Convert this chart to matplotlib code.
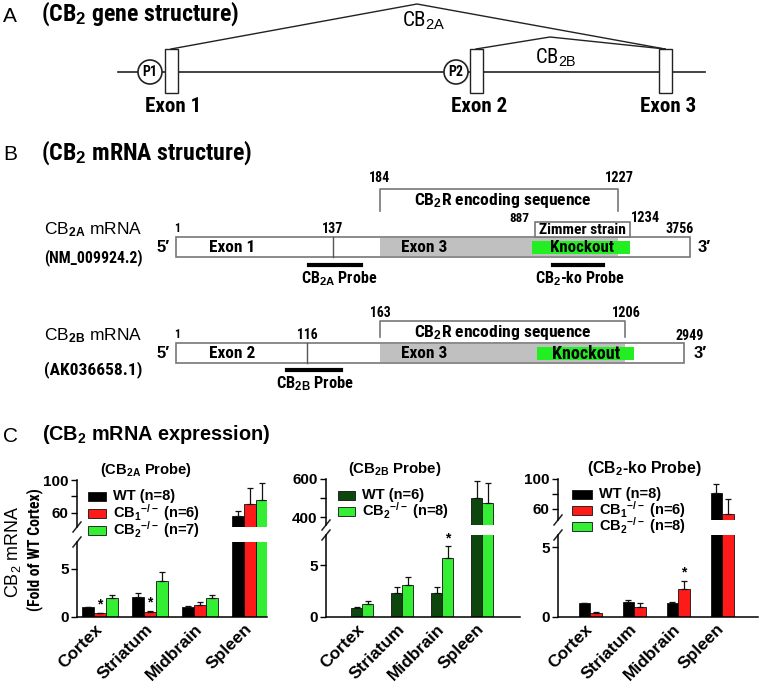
import matplotlib
matplotlib.use('Agg')
import matplotlib.pyplot as plt
from matplotlib.patches import Rectangle, Circle
from matplotlib.font_manager import FontProperties, fontManager
import numpy as np

plt.rcParams['font.family'] = ['Liberation Sans', 'DejaVu Sans']
plt.rcParams['mathtext.fontset'] = 'custom'
plt.rcParams['mathtext.rm'] = 'Liberation Sans:bold'
plt.rcParams['mathtext.it'] = 'Liberation Sans:bold'
plt.rcParams['mathtext.bf'] = 'Liberation Sans:bold'
plt.rcParams['mathtext.sf'] = 'Liberation Sans'


def find_narrow(bold):
    best = None
    for f in fontManager.ttflist:
        key = (f.name + ' ' + f.fname).lower()
        if not ('narrow' in key or 'condensed' in key) or f.style != 'normal':
            continue
        if 'mono' in key or 'serif' in key or 'cjk' in key:
            continue
        w = f.weight if isinstance(f.weight, int) else (700 if f.weight == 'bold' else 400)
        if bold and w != 700:
            continue
        if not bold and w != 400:
            continue
        if 'liberation' in key:
            score = 0
        elif 'roboto' in key and 'semi' not in key:
            score = 1
        elif 'extracondensed' in key.replace(' ', ''):
            score = 3
        elif 'semicondensed' in key.replace(' ', ''):
            score = 4
        elif 'dejavu' in key:
            score = 6
        else:
            score = 2
        if best is None or score < best[0]:
            best = (score, f.fname)
    return best[1] if best else None


NB_FILE = find_narrow(True)
NR_FILE = find_narrow(False)


def narrow(size, bold=True):
    fn = NB_FILE if bold else NR_FILE
    if fn:
        return FontProperties(fname=fn, size=size)
    return FontProperties(family='Liberation Sans', weight='bold' if bold else 'normal', size=size)


def sans(size, bold=True):
    return FontProperties(family='Liberation Sans', weight='bold' if bold else 'normal', size=size)


# ---------------- data ----------------
regions = ['Cortex', 'Striatum', 'Midbrain', 'Spleen']

# CB2A probe
a_wt = [1.0, 2.1, 1.0, 56]
a_wt_err = [0.05, 0.4, 0.1, 7]
a_cb1 = [0.4, 0.55, 1.3, 71]
a_cb1_err = [0.05, 0.1, 0.3, 19]
a_cb2 = [2.0, 3.7, 2.0, 76]
a_cb2_err = [0.3, 1.0, 0.3, 20]

# CB2B probe
b_wt = [0.9, 2.3, 2.3, 500]
b_wt_err = [0.1, 0.6, 0.6, 90]
b_cb2 = [1.3, 3.1, 5.7, 474]
b_cb2_err = [0.2, 0.8, 1.1, 105]

# CB2-ko probe
c_wt = [1.0, 1.05, 1.0, 81]
c_wt_err = [0.03, 0.15, 0.08, 12]
c_cb1 = [0.3, 0.7, 2.0, 53]
c_cb1_err = [0.05, 0.3, 0.6, 20]

W, H = 766, 686
fig = plt.figure(figsize=(W / 100, H / 100), dpi=100)
ov = fig.add_axes([0, 0, 1, 1])
ov.set_xlim(0, W)
ov.set_ylim(H, 0)
ov.axis('off')
REND = fig.canvas.get_renderer()

LC = '#222222'
GC = '#777777'


def T(x, y, s, fp, ha='center', va='center', width=None, maxsize=None, **kw):
    """Place a text; if width is given, scale its size so it spans that many pixels."""
    t = ov.text(x, y, s, fontproperties=fp, ha=ha, va=va, **kw)
    if width:
        bb = t.get_window_extent(REND)
        cur = bb.height if kw.get('rotation') == 90 else bb.width
        new = fp.get_size_in_points() * width / max(cur, 1)
        if maxsize:
            new = min(new, maxsize)
        fp2 = fp.copy()
        fp2.set_size(new)
        t.set_fontproperties(fp2)
    return t


# ---------------- Panel A ----------------
T(3, 16, 'A', sans(15, False), ha='left')
T(41, 14, r'(CB$_2$ gene structure)', narrow(13), ha='left', width=198)
ov.plot([118, 705], [72, 72], color=LC, lw=1.2)
for cx, lab in [(150, 'P1'), (456, 'P2')]:
    ov.add_patch(Circle((cx, 72), 12, fc='white', ec=LC, lw=1.2, zorder=3))
    T(cx, 72, lab, narrow(10), zorder=4, width=15)
for x0 in [165, 470, 659]:
    ov.add_patch(Rectangle((x0, 49), 13, 44, fc='white', ec=LC, lw=1, zorder=3))
ov.plot([171, 417, 665], [49, 4, 49], color=LC, lw=1)
ov.plot([476, 550, 665], [49, 37, 49], color=LC, lw=1)
T(424, 21, r'CB$_{\mathsf{2A}}$', narrow(13, False), width=44)
T(556, 58, r'CB$_{\mathsf{2B}}$', narrow(13, False), width=42)
T(173, 107, 'Exon 1', narrow(12), width=56)
T(479, 107, 'Exon 2', narrow(12), width=56)
T(668, 107, 'Exon 3', narrow(12), width=56)

# ---------------- Panel B ----------------
T(3, 154, 'B', sans(15, False), ha='left')
T(41, 153, r'(CB$_2$ mRNA structure)', narrow(13), ha='left', width=212)


def mrna(bar_y, num_y, br_top, br_bot, seq_y, bar_x1, div_x, gray_x1, ko_x0, ko_x1, br_x1,
         n_div, n_br0, n_br1, n_end, end_x, end_y, three_x, exon_lab, name, acc, acc_y,
         probe_x0, probe_x1, probe_y, probe_lab, probe_cx, probe_w, ko_w):
    ov.plot([380, 380, br_x1, br_x1], [br_bot, br_top, br_top, br_bot], color=GC, lw=1.2)
    T(503, seq_y, r'CB$_2$R encoding sequence', narrow(12), width=177)
    T(380, num_y, n_br0, narrow(11), width=21)
    T(br_x1 + 1, num_y, n_br1, narrow(11), width=29)
    ov.add_patch(Rectangle((176, bar_y), bar_x1 - 176, 20, fc='white', ec=GC, lw=1.2))
    ov.add_patch(Rectangle((380, bar_y + 1), gray_x1 - 380, 18, fc='#c0c0c0', ec='none'))
    ov.add_patch(Rectangle((ko_x0, bar_y + 4), ko_x1 - ko_x0, 13, fc='#22ee22', ec='none'))
    ov.plot([div_x, div_x], [bar_y, bar_y + 20], color='#555555', lw=1)
    cy = bar_y + 11
    T(232, cy, exon_lab, narrow(12), width=46)
    T(424, cy, 'Exon 3', narrow(12), width=46)
    T((ko_x0 + ko_x1) / 2 + 1, cy, 'Knockout', narrow(12), width=ko_w)
    T(177, bar_y - 8, '1', narrow(11), width=6)
    T(div_x, bar_y - 8, n_div, narrow(11), width=21)
    T(end_x, end_y, n_end, narrow(11), width=28)
    T(163, cy - 1, '5′', sans(12))
    T(three_x, cy - 1, '3′', sans(12))
    T(93, bar_y - 7, name, sans(13, False), width=98)
    T(93, acc_y, acc, narrow(11), width=98)
    ov.plot([probe_x0, probe_x1], [probe_y, probe_y], color='black', lw=3)
    T(probe_cx, probe_y + 14, probe_lab, narrow(12), width=probe_w)


mrna(237, 178, 189, 211, 200, 690, 333, 618, 532, 630, 618, '137', '184', '1227', '3756', 680, 229,
     704, 'Exon 1', r'CB$_{2A}$ mRNA', '(NM_009924.2)', 258, 309, 361, 265, r'CB$_{2A}$ Probe',
     339, 76, 64)
# Zimmer strain box + numbers
ov.add_patch(Rectangle((535, 222), 95, 15, fc='white', ec=GC, lw=1.2))
T(582, 230, 'Zimmer strain', narrow(11), width=86)
T(529, 219, '887', narrow(11), ha='right', width=20)
T(631, 218, '1234', narrow(11), ha='left', width=29)
ov.plot([553, 603], [265, 265], color='black', lw=3)
T(580, 279, r'CB$_2$-ko Probe', narrow(12), width=90)

mrna(343, 313, 321, 337, 333, 684, 307, 625, 537, 634, 625, '116', '163', '1206', '2949', 690, 336,
     700, 'Exon 2', r'CB$_{2B}$ mRNA', '(AK036658.1)', 370, 287, 341, 370, r'CB$_{2B}$ Probe',
     315, 78, 68)

# ---------------- Panel C ----------------
T(3, 436, 'C', sans(15, False), ha='left')
T(42, 435, r'(CB$_2$ mRNA expression)', sans(14), ha='left', width=229)
T(13, 552, r'CB$_{\mathsf{2}}$ mRNA', sans(13, False), rotation=90, width=92)
T(35, 550, '(Fold of WT Cortex)', narrow(9), rotation=90, width=123)


def px_axes(x0, y0, x1, y1):
    return fig.add_axes([x0 / W, 1 - y1 / H, (x1 - x0) / W, (y1 - y0) / H])


BLACK = '#000000'
RED = '#ff1a1a'
GREEN = '#33ee33'
DKGREEN = '#0d470d'


def chart(x0, x1, centers_px, bar_px, up_top, up_bot, up_lim, up_ticks, up_lbls,
          low_top, low_lim, series, stars, title, title_xy, title_w, legend_items, legend_xy,
          leg_w, leg_dy):
    spacing = centers_px[1] - centers_px[0]
    xl = ((x0 - centers_px[0]) / spacing, (x1 - centers_px[0]) / spacing)
    w = bar_px / spacing
    ax_u = px_axes(x0, up_top, x1, up_bot)
    ax_l = px_axes(x0, low_top, x1, 617)
    n = len(series)
    xs = np.arange(len(regions))
    for ax in (ax_u, ax_l):
        for i, (vals, errs, col, lab) in enumerate(series):
            pos = xs + (i - (n - 1) / 2) * w
            ax.bar(pos, vals, width=w, color=col, edgecolor='#111111', lw=0.6, label=lab)
            ax.errorbar(pos, vals, yerr=[np.zeros(len(vals)), errs], fmt='none',
                        ecolor='#111111', elinewidth=0.9, capsize=2.2, capthick=0.9)
        ax.set_xlim(*xl)
        ax.patch.set_alpha(0)
        for s in ('top', 'right'):
            ax.spines[s].set_visible(False)
        ax.spines['left'].set_linewidth(1.1)
        ax.spines['bottom'].set_linewidth(1.1)
        ax.tick_params(axis='y', length=4, width=1, pad=2)
    ax_u.set_ylim(*up_lim)
    ax_u.spines['bottom'].set_visible(False)
    ax_u.set_xticks([])
    ax_u.set_yticks(up_ticks)
    ax_u.set_yticklabels(up_lbls, fontproperties=sans(11))
    ax_l.set_ylim(*low_lim)
    ax_l.set_yticks([0, 5])
    ax_l.set_yticklabels(['0', '5'], fontproperties=sans(11))
    ax_l.set_xticks(xs)
    ax_l.set_xticklabels(regions, rotation=45, ha='right', va='center', rotation_mode='anchor',
                         fontproperties=sans(12.5))
    ax_l.tick_params(axis='x', length=0, pad=7)
    for (ci, si) in stars:
        vals, errs = series[si][0], series[si][1]
        xp = ci + (si - (n - 1) / 2) * w
        ax_l.annotate('*', (xp, vals[ci] + errs[ci]), xytext=(0, 1), textcoords='offset points',
                      ha='center', va='bottom', fontsize=10, fontweight='bold')
    for yy in (up_bot, low_top):
        ov.plot([x0 - 4, x0 + 4], [yy + 5, yy - 5], color=LC, lw=1.1)
    T(title_xy[0], title_xy[1], title, sans(11.5), width=title_w)
    # legend (manual layout of a key box per series)
    lx, ly = legend_xy
    size = None
    for k, (col, lab) in enumerate(legend_items):
        yy = ly + k * leg_dy
        ov.add_patch(Rectangle((lx, yy - 4.5), leg_w, 9, fc=col, ec='#111111', lw=0.6))
        if size is None:
            t = T(lx + leg_w + 7, yy, lab, sans(11.5), ha='left', width=62)
            size = t.get_fontproperties().get_size_in_points()
        else:
            T(lx + leg_w + 7, yy, lab, sans(size), ha='left')
    return ax_u, ax_l


chart(77, 267, [100, 150, 200, 250], 12, 480, 527, (43, 100), [60, 80, 100], ['60', '', '100'],
      542, (0, 7.8),
      [(a_wt, a_wt_err, BLACK, 'WT (n=8)'),
       (a_cb1, a_cb1_err, RED, r'CB$_1$$^{-/-}$ (n=6)'),
       (a_cb2, a_cb2_err, GREEN, r'CB$_2$$^{-/-}$ (n=7)')],
      [(0, 1), (1, 1)], r'(CB$_{2A}$ Probe)', (146, 470), 92,
      [(BLACK, 'WT (n=8)'), (RED, r'CB$_1$$^{-/-}$ (n=6)'), (GREEN, r'CB$_2$$^{-/-}$ (n=7)')],
      (88, 496), 18, 17)

chart(326, 520, [362, 402, 442, 482], 11, 479, 525, (358, 600), [400, 500, 600], ['400', '', '600'],
      535, (0, 7.9),
      [(b_wt, b_wt_err, DKGREEN, 'WT (n=6)'),
       (b_cb2, b_cb2_err, GREEN, r'CB$_2$$^{-/-}$ (n=8)')],
      [(2, 1)], r'(CB$_{2B}$ Probe)', (395, 469), 94,
      [(DKGREEN, 'WT (n=6)'), (GREEN, r'CB$_2$$^{-/-}$ (n=8)')],
      (338, 495), 17, 16)

chart(558, 758, [590, 634, 677, 721], 11.5, 479, 520, (45, 100), [60, 80, 100], ['60', '', '100'],
      535, (0, 5.86),
      [(c_wt, c_wt_err, BLACK, 'WT (n=8)'),
       (c_cb1, c_cb1_err, RED, r'CB$_1$$^{-/-}$ (n=6)')],
      [(2, 1)], r'(CB$_2$-ko Probe)', (644, 468), 115,
      [(BLACK, 'WT (n=8)'), (RED, r'CB$_1$$^{-/-}$ (n=6)'), (GREEN, r'CB$_2$$^{-/-}$ (n=8)')],
      (572, 494), 20, 16)

fig.savefig('out.png', dpi=100)
